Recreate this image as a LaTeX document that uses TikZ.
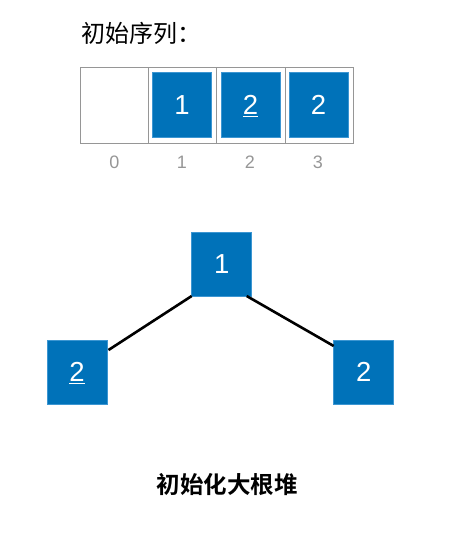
\documentclass[tikz,border=0pt]{standalone}
\usepackage{fontspec}
\setmainfont{Liberation Sans}
\newfontfamily\cjk{Noto Sans CJK SC}
\newfontfamily\cjkb{Noto Sans CJK SC Bold}
\usetikzlibrary{calc}
\definecolor{boxblue}{RGB}{0,114,185}
\definecolor{boxedge}{RGB}{60,150,210}
\definecolor{gridgray}{RGB}{150,150,150}
\definecolor{idxgray}{RGB}{150,150,150}
\tikzset{
  bluebox/.style={fill=boxblue, draw=boxedge, line width=0.6pt, inner sep=0pt, outer sep=0pt,
    minimum width=59pt, minimum height=65pt, text=white, text height=19.7pt, text depth=0pt,
    font=\fontsize{27.5}{32}\selectfont},
  treebox/.style={bluebox, minimum width=60pt, minimum height=64pt},
  cell/.style={draw=gridgray, line width=0.8pt, inner sep=0pt, outer sep=0pt, minimum width=68.3pt, minimum height=76pt},
  idx/.style={text=idxgray, font=\fontsize{18}{22}\selectfont},
  edge/.style={line width=2.6pt, black}
}
\newcommand{\ul}[1]{\underline{#1}}
\begin{document}
\begin{tikzpicture}[x=1pt,y=-1pt]
\useasboundingbox (0,0) rectangle (454,536);
% title
\node[anchor=west, inner sep=0pt, font=\cjk\fontsize{24}{28}\selectfont] (title) at (81,33) {初始序列：};
% array cells
\node[cell] (c0) at (114.2,105.3) {};
\node[cell] (c1) at (182.5,105.3) {};
\node[cell] (c2) at (250.8,105.3) {};
\node[cell] (c3) at (319.1,105.3) {};
% blue boxes
\node[bluebox] (a1) at (182,105) {1};
\node[bluebox] (a2) at (250.4,105) {\ul{2}};
\node[bluebox] (a3) at (318.5,105) {2};
% index labels
\node[idx] (i0) at (114.3,162.5) {0};
\node[idx] (i1) at (182,162.5) {1};
\node[idx] (i2) at (250,162.5) {2};
\node[idx] (i3) at (318,162.5) {3};
% tree
\node[treebox] (root) at (221.7,264) {1};
\node[treebox] (left) at (77,372) {\ul{2}};
\node[treebox] (right) at (363.7,372) {2};
\draw[edge] (root.south west) -- ($(left.north east)+(1.5,10)$);
\draw[edge] ($(root.south east)+(-5,0)$) -- ($(right.north west)+(0,6)$);
% caption
\node[font=\cjkb\fontsize{23.5}{28}\selectfont] (cap) at (227,485) {初始化大根堆};
\end{tikzpicture}
\end{document}
